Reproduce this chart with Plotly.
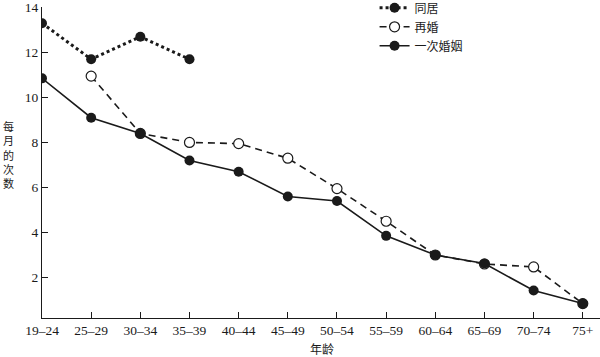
import plotly.graph_objects as go

ages = ["19–24", "25–29", "30–34", "35–39", "40–44", "45–49", "50–54",
        "55–59", "60–64", "65–69", "70–74", "75+"]
cohabit = [13.3, 11.7, 12.7, 11.7, None, None, None, None, None, None, None, None]
remarried = [None, 10.95, 8.4, 8.0, 7.95, 7.3, 5.95, 4.5, 3.0, 2.6, 2.47, 0.84]
first_marriage = [10.85, 9.1, 8.4, 7.2, 6.7, 5.6, 5.4, 3.85, 3.0, 2.62, 1.42, 0.84]
y_ticks = [2, 4, 6, 8, 10, 12, 14]

FONT = "Liberation Serif, Noto Sans CJK SC, serif"
INK = "#1a1a1a"

fig = go.Figure()
fig.add_trace(go.Scatter(
    x=ages, y=cohabit, name="同居", mode="lines+markers",
    line=dict(color=INK, width=3, dash="dot"),
    marker=dict(symbol="circle", size=10, color=INK),
))
fig.add_trace(go.Scatter(
    x=ages, y=remarried, name="再婚", mode="lines+markers",
    line=dict(color=INK, width=1.6, dash="7px,5px"),
    marker=dict(symbol="circle", size=10, color="white", line=dict(color=INK, width=1.2)),
))
fig.add_trace(go.Scatter(
    x=ages, y=first_marriage, name="一次婚姻", mode="lines+markers",
    line=dict(color=INK, width=1.6),
    marker=dict(symbol="circle", size=10, color=INK),
))

fig.update_layout(
    width=600, height=357,
    margin=dict(l=42, r=0, t=7, b=39, autoexpand=False),
    plot_bgcolor="white", paper_bgcolor="white",
    font=dict(family=FONT, size=13, color=INK),
    showlegend=True,
    legend=dict(x=0.596, y=1.044, xanchor="left", yanchor="top",
                bgcolor="rgba(0,0,0,0)", font=dict(size=12),
                tracegroupgap=0),
    xaxis=dict(
        type="category", categoryorder="array", categoryarray=ages,
        range=[0, 11.35], showgrid=False, zeroline=False,
        showline=True, linecolor=INK, linewidth=1.2,
        ticks="inside", ticklen=6, tickcolor=INK, tickwidth=1.2,
        tickfont=dict(size=13.5), automargin=False,
    ),
    yaxis=dict(
        range=[0.2, 14.02], tickvals=y_ticks, showgrid=False, zeroline=False,
        showline=True, linecolor=INK, linewidth=1.2,
        ticks="inside", ticklen=6, tickcolor=INK, tickwidth=1.2,
        tickfont=dict(size=13.5), automargin=False, ticklabeloverflow="allow",
    ),
)

fig.add_annotation(text="年龄", xref="paper", yref="paper", x=0.502, y=0,
                   xanchor="center", yanchor="top", yshift=-23,
                   showarrow=False, font=dict(size=12))
fig.add_annotation(text="每<br>月<br>的<br>次<br>数", xref="paper", yref="paper",
                   x=0, xshift=-34, y=0.525, xanchor="center", yanchor="middle",
                   showarrow=False, font=dict(size=11))

fig.write_html("out.html", config={"displayModeBar": False},
               post_script="document.body.style.margin='0';document.body.style.padding='0';")
